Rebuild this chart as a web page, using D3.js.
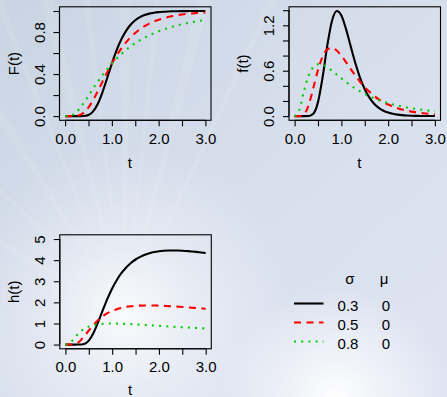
<!DOCTYPE html>
<html>
<head>
<meta charset="utf-8">
<script src="https://cdn.jsdelivr.net/npm/d3@7"></script>
<style>
  html, body { margin: 0; padding: 0; background: #d6deec; }
  svg { display: block; }
  text { font-family: "Liberation Sans", Arial, Helvetica, sans-serif; fill: #000; }
</style>
</head>
<body>
<svg id="chart" width="447" height="397"></svg>
<script>
// ---------------- data ----------------
const tValues = [0,0.1,0.2,0.3,0.4,0.5,0.6,0.7,0.8,0.9,1.0,1.1,1.2,1.3,1.4,1.5,1.6,1.7,1.8,1.9,2.0,2.1,2.2,2.3,2.4,2.5,2.6,2.7,2.8,2.9,3.0];

const sigmaValues = ["0.3", "0.5", "0.8"];
const muValues = ["0", "0", "0"];

// F(t)
const cdfSigma03 = [0,0,0,0.00003,0.0011,0.0104,0.0443,0.1172,0.2285,0.3627,0.5,0.6246,0.7283,0.8091,0.8690,0.9118,0.9414,0.9615,0.9750,0.9838,0.9896,0.9933,0.9957,0.9973,0.9982,0.9989,0.9993,0.9995,0.9997,0.9998,0.9999];
const cdfSigma05 = [0,0.000002,0.0006,0.0080,0.0334,0.0828,0.1535,0.2378,0.3277,0.4166,0.5,0.5756,0.6423,0.7001,0.7495,0.7913,0.8264,0.8557,0.8801,0.9004,0.9172,0.9311,0.9426,0.9521,0.9600,0.9666,0.9720,0.9765,0.9803,0.9834,0.9860];
const cdfSigma08 = [0,0.0020,0.0221,0.0662,0.1260,0.1932,0.2616,0.3278,0.3902,0.4476,0.5,0.5474,0.5901,0.6285,0.6630,0.6939,0.7216,0.7465,0.7688,0.7888,0.8068,0.8231,0.8378,0.8511,0.8631,0.8740,0.8838,0.8928,0.9010,0.9084,0.9152];

// f(t)
const pdfSigma03 = [0,0,0,0.0014,0.0314,0.1846,0.5202,0.9370,1.2605,1.3892,1.3298,1.1494,0.9213,0.6977,0.5064,0.3556,0.2436,0.1637,0.1084,0.0709,0.0461,0.0298,0.0191,0.0123,0.0078,0.0050,0.0032,0.0021,0.0013,0.0008,0.0005];
const pdfSigma05 = [0,0.0002,0.0225,0.1465,0.3721,0.6104,0.7891,0.8837,0.9028,0.8670,0.7979,0.7123,0.6222,0.5348,0.4544,0.3829,0.3206,0.2672,0.2221,0.1842,0.1526,0.1264,0.1046,0.0866,0.0718,0.0595,0.0494,0.0411,0.0342,0.0285,0.0238];
const pdfSigma08 = [0,0.0793,0.3296,0.5356,0.6469,0.6853,0.6779,0.6450,0.5996,0.5493,0.4987,0.4501,0.4049,0.3635,0.3260,0.2924,0.2623,0.2354,0.2115,0.1902,0.1713,0.1545,0.1395,0.1261,0.1142,0.1035,0.0940,0.0855,0.0778,0.0709,0.0647];

// h(t)
const hazSigma03 = [0,0,0,0.0014,0.0314,0.1865,0.5443,1.0614,1.634,2.180,2.660,3.062,3.391,3.655,3.866,4.030,4.157,4.256,4.329,4.382,4.418,4.443,4.455,4.459,4.455,4.445,4.430,4.412,4.390,4.365,4.338];
const hazSigma05 = [0,0.0002,0.0225,0.1477,0.3850,0.6655,0.9322,1.1594,1.3429,1.4861,1.5958,1.6784,1.7394,1.7833,1.8140,1.8347,1.8468,1.8518,1.8525,1.849,1.843,1.833,1.822,1.809,1.796,1.781,1.766,1.748,1.732,1.716,1.699];
const hazSigma08 = [0,0.0794,0.3370,0.5736,0.7402,0.8493,0.9181,0.9596,0.9833,0.9944,0.9974,0.9945,0.9878,0.9785,0.9674,0.9552,0.9422,0.9283,0.9148,0.9006,0.8872,0.8733,0.8599,0.8469,0.8339,0.8214,0.8090,0.7971,0.7859,0.7742,0.7634];

// ticks
const xTicks = [0, 0.5, 1, 1.5, 2, 2.5, 3];
const xTickLabels = ["0.0", "", "1.0", "", "2.0", "", "3.0"];
const cdfTicks = [0, 0.2, 0.4, 0.6, 0.8, 1.0];
const cdfTickLabels = ["0.0", "", "0.4", "", "0.8", ""];
const pdfTicks = [0, 0.2, 0.4, 0.6, 0.8, 1.0, 1.2, 1.4];
const pdfTickLabels = ["0.0", "", "", "0.6", "", "", "1.2", ""];
const hazTicks = [0, 1, 2, 3, 4, 5];
const hazTickLabels = ["0", "1", "2", "3", "4", "5"];

// ---------------- styles ----------------
const seriesStyles = [
  { color: "#000000", dash: null, width: 2.1 },
  { color: "#ff0000", dash: "7,5.5", width: 2.1 },
  { color: "#00cd00", dash: "2,5.2", width: 2.1 }
];

const svg = d3.select("#chart");
const W = 447, H = 397;

// ---------------- background ----------------
const defs = svg.append("defs");
const bgLin = defs.append("linearGradient").attr("id", "bgLin")
  .attr("x1", 0).attr("y1", 0).attr("x2", 1).attr("y2", 1);
bgLin.append("stop").attr("offset", "0%").attr("stop-color", "#c9d4e3");
bgLin.append("stop").attr("offset", "45%").attr("stop-color", "#d6deec");
bgLin.append("stop").attr("offset", "100%").attr("stop-color", "#dfe4f2");

const glow1 = defs.append("radialGradient").attr("id", "glow1")
  .attr("gradientUnits", "userSpaceOnUse").attr("cx", 125).attr("cy", 315).attr("r", 170);
glow1.append("stop").attr("offset", "0%").attr("stop-color", "#ffffff").attr("stop-opacity", 0.85);
glow1.append("stop").attr("offset", "45%").attr("stop-color", "#ffffff").attr("stop-opacity", 0.35);
glow1.append("stop").attr("offset", "100%").attr("stop-color", "#ffffff").attr("stop-opacity", 0);

const glow2 = defs.append("radialGradient").attr("id", "glow2")
  .attr("gradientUnits", "userSpaceOnUse").attr("cx", 335).attr("cy", 400).attr("r", 115);
glow2.append("stop").attr("offset", "0%").attr("stop-color", "#ffffff").attr("stop-opacity", 1);
glow2.append("stop").attr("offset", "35%").attr("stop-color", "#ffffff").attr("stop-opacity", 0.6);
glow2.append("stop").attr("offset", "100%").attr("stop-color", "#ffffff").attr("stop-opacity", 0);

svg.append("rect").attr("width", W).attr("height", H).attr("fill", "url(#bgLin)");

// faint light streaks converging to the glow
const rayAngles = [-150, -135, -122, -112, -104, -97, -90, -84, -76, -65];
const rays = svg.append("g").attr("opacity", 0.09);
rayAngles.forEach((a, i) => {
  const rad = a * Math.PI / 180, len = 420, spread = (i % 2 ? 0.6 : 1.1) * Math.PI / 180;
  const cx = 125, cy = 315;
  const p1 = [cx + len * Math.cos(rad - spread), cy + len * Math.sin(rad - spread)];
  const p2 = [cx + len * Math.cos(rad + spread), cy + len * Math.sin(rad + spread)];
  rays.append("polygon").attr("points", `${cx},${cy} ${p1[0]},${p1[1]} ${p2[0]},${p2[1]}`)
    .attr("fill", "#ffffff");
});
svg.append("rect").attr("width", W).attr("height", H).attr("fill", "url(#glow1)");
svg.append("rect").attr("width", W).attr("height", H).attr("fill", "url(#glow2)");

// ---------------- panels ----------------
const FONT = 15;
const panels = [
  { left: 59.5, top: 6.8, w: 151.5, h: 113.5, yMax: 1.0, yTicks: cdfTicks, yLabels: cdfTickLabels, ylab: "F(t)",
    tY: 48, series: [cdfSigma03, cdfSigma05, cdfSigma08] },
  { left: 289, top: 6.8, w: 151.5, h: 113.5, yMax: 1.3892, yTicks: pdfTicks, yLabels: pdfTickLabels, ylab: "f(t)",
    tY: 48, series: [pdfSigma03, pdfSigma05, pdfSigma08] },
  { left: 59.8, top: 234.8, w: 151.5, h: 114, yMax: 5, yTicks: hazTicks, yLabels: hazTickLabels, ylab: "h(t)",
    tY: 46, series: [hazSigma03, hazSigma05, hazSigma08] }
];

panels.forEach(p => {
  const g = svg.append("g");
  const x = d3.scaleLinear().domain([-0.12, 3.12]).range([p.left, p.left + p.w]);
  const y = d3.scaleLinear().domain([-0.04 * p.yMax, 1.04 * p.yMax]).range([p.top + p.h, p.top]);

  const clipId = "clip" + p.ylab.replace(/[^a-z]/gi, "");
  defs.append("clipPath").attr("id", clipId).append("rect")
    .attr("x", p.left).attr("y", p.top).attr("width", p.w).attr("height", p.h);

  const line = d3.line().x((d, i) => x(tValues[i])).y(d => y(d)).curve(d3.curveMonotoneX);
  const lg = g.append("g").attr("clip-path", `url(#${clipId})`);
  p.series.forEach((s, k) => {
    const st = seriesStyles[k];
    lg.append("path").datum(s).attr("d", line)
      .attr("fill", "none").attr("stroke", st.color).attr("stroke-width", st.width)
      .attr("stroke-dasharray", st.dash).attr("stroke-linecap", "butt").attr("stroke-linejoin", "round");
  });

  // box
  g.append("rect").attr("x", p.left).attr("y", p.top).attr("width", p.w).attr("height", p.h)
    .attr("fill", "none").attr("stroke", "#000").attr("stroke-width", 1.1);

  // x axis
  const xAxis = d3.axisBottom(x).tickValues(xTicks).tickSize(6).tickPadding(4)
    .tickFormat((d, i) => xTickLabels[i]);
  const xg = g.append("g").attr("transform", `translate(0,${p.top + p.h})`).call(xAxis);
  xg.select(".domain").attr("d", `M${x(0)},0H${x(3)}`).attr("stroke", "#000").attr("stroke-width", 1.1);
  xg.selectAll(".tick line").attr("stroke", "#000").attr("stroke-width", 1.1);
  xg.selectAll(".tick text").attr("font-size", FONT).attr("font-family", null)
    .attr("dy", null).attr("y", 23.5);

  // y axis
  const yAxis = d3.axisLeft(y).tickValues(p.yTicks).tickSize(6)
    .tickFormat((d, i) => p.yLabels[i]);
  const yg = g.append("g").attr("transform", `translate(${p.left},0)`).call(yAxis);
  yg.select(".domain").attr("d", `M0,${y(p.yTicks[0])}V${y(p.yTicks[p.yTicks.length - 1])}`)
    .attr("stroke", "#000").attr("stroke-width", 1.1);
  yg.selectAll(".tick line").attr("stroke", "#000").attr("stroke-width", 1.1);
  yg.selectAll(".tick text").attr("font-size", FONT).attr("font-family", null)
    .attr("x", null).attr("dy", null)
    .attr("text-anchor", "middle")
    .attr("transform", "translate(-15,0) rotate(-90)");

  // axis titles
  g.append("text").attr("x", p.left + p.w / 2 - 5.5).attr("y", p.top + p.h + p.tY)
    .attr("text-anchor", "middle").attr("font-size", FONT).text("t");
  g.append("text").attr("transform", `translate(${p.left - 41},${p.top + p.h / 2}) rotate(-90)`)
    .attr("text-anchor", "middle").attr("font-size", FONT).text(p.ylab);
});

// ---------------- legend ----------------
const leg = svg.append("g");
leg.append("text").attr("x", 350).attr("y", 284).attr("text-anchor", "middle").attr("font-size", FONT).text("σ");
leg.append("text").attr("x", 384).attr("y", 284).attr("text-anchor", "middle").attr("font-size", FONT).text("μ");
const rowY = [305, 324, 343];
sigmaValues.forEach((s, i) => {
  const st = seriesStyles[i];
  leg.append("line").attr("x1", 294).attr("x2", 323.5).attr("y1", rowY[i] - 1.5).attr("y2", rowY[i] - 1.5)
    .attr("stroke", st.color).attr("stroke-width", st.width).attr("stroke-dasharray", st.dash);
  leg.append("text").attr("x", 348).attr("y", rowY[i] + 5.5).attr("text-anchor", "middle")
    .attr("font-size", FONT).text(s);
  leg.append("text").attr("x", 386).attr("y", rowY[i] + 5.5).attr("text-anchor", "middle")
    .attr("font-size", FONT).text(muValues[i]);
});
</script>
</body>
</html>
